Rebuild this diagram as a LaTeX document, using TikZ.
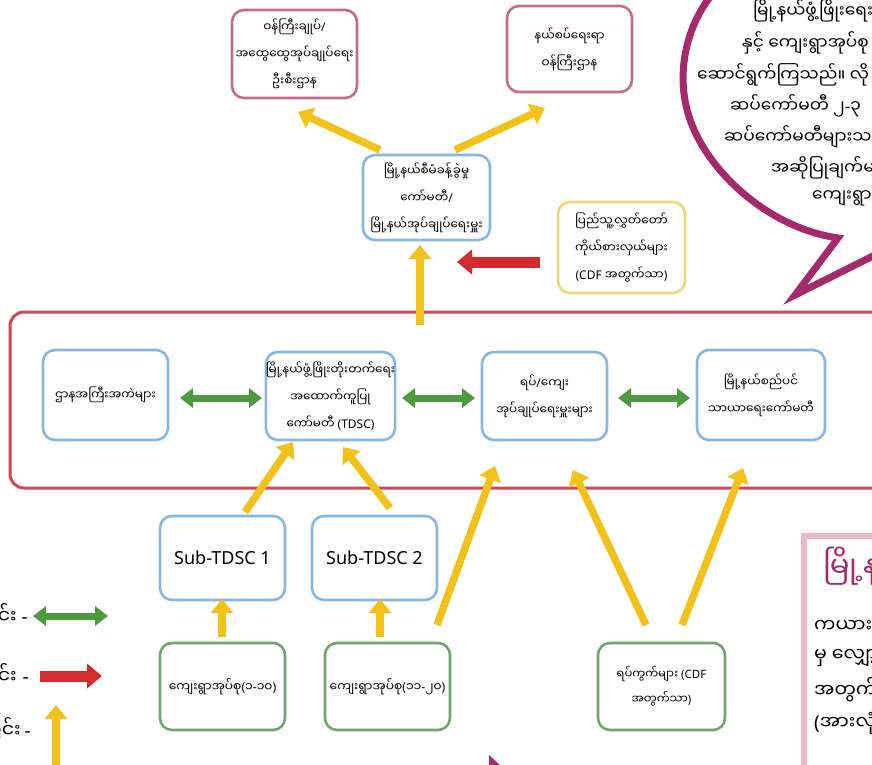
\documentclass[tikz,border=0pt]{standalone}
\usepackage{fontspec}
\newfontfamily\mm[Script=Myanmar]{Noto Sans Myanmar UI}
\newfontfamily\lat{Noto Sans}
\newcommand\Lp{{\lat(}}
\newcommand\Rp{{\lat)}}
\newcommand\Sl{{\lat/}}
\newcommand\Dh{{\lat-}}
\usetikzlibrary{arrows.meta}
\definecolor{bbox}{HTML}{86B6E2}
\definecolor{pbox}{HTML}{C46A8C}
\definecolor{ybox}{HTML}{EFD67A}
\definecolor{gbox}{HTML}{6FA56F}
\definecolor{framec}{HTML}{D0465A}
\definecolor{yarr}{HTML}{F2C21A}
\definecolor{garr}{HTML}{4E9A3E}
\definecolor{rarr}{HTML}{D42A2E}
\definecolor{bub}{HTML}{A52A6C}
\definecolor{palepink}{HTML}{EBB8CC}
\tikzset{
  bx/.style={draw, rounded corners=12pt, line width=2.6pt, fill=white, align=center,
    inner sep=1pt, font=\mm\fontsize{12}{27}\selectfont},
  bluebox/.style={bx, draw=bbox},
  pinkbox/.style={bx, draw=pbox},
  yelbox/.style={bx, draw=ybox},
  grnbox/.style={bx, draw=gbox},
  yar/.style={draw=yarr, line width=7.5pt, -{Triangle[length=14pt,width=22pt]}},
  gar/.style={draw=garr, line width=7pt, {Triangle[length=13pt,width=19pt]}-{Triangle[length=13pt,width=19pt]}},
  rar/.style={draw=rarr, line width=11pt, -{Triangle[length=15pt,width=24pt]}},
  bubtext/.style={anchor=west, font=\mm\fontsize{17}{19}\selectfont, inner sep=0pt},
  legtext/.style={anchor=east, font=\mm\fontsize{19}{21}\selectfont, inner sep=0pt},
  rtext/.style={anchor=west, inner sep=0pt, font=\mm\fontsize{19}{21}\selectfont},
}
\begin{document}
\begin{tikzpicture}[x=1pt,y=-1pt]
\useasboundingbox (0,0) rectangle (872,764);
\clip (0,0) rectangle (872,764);
\fill[white] (0,0) rectangle (872,764);

% big red frame
\draw[framec, line width=3pt, rounded corners=14pt] (10,312) rectangle (890,488);

% top boxes
\node[pinkbox, minimum width=125pt, minimum height=88pt] (n1) at (294.5,54) {ဝန်ကြီးချုပ်\Sl\\အထွေထွေအုပ်ချုပ်ရေး\\ဦးစီးဌာန};
\node[pinkbox, minimum width=125pt, minimum height=86pt] (n2) at (569.5,49) {နယ်စပ်ရေးရာ\\ဝန်ကြီးဌာန};
\node[bluebox, minimum width=127pt, minimum height=85pt] (n3) at (426.5,197.5) {မြို့နယ်စီမံခန့်ခွဲမှု\\ကော်မတီ\Sl\\မြို့နယ်အုပ်ချုပ်ရေးမှူး};
\node[yelbox, minimum width=127pt, minimum height=91pt] (n4) at (621.5,247.5) {ပြည်သူ့လွှတ်တော်\\ကိုယ်စားလှယ်များ\\\Lp{\lat CDF} အတွက်သာ\Rp};

% frame boxes
\node[bluebox, minimum width=125pt, minimum height=90pt] (b1) at (105.5,395) {ဌာနအကြီးအကဲများ};
\node[bluebox, minimum width=125pt, minimum height=88pt, inner sep=0pt] (b2) at (330.5,396) {မြို့နယ်ဖွံ့ဖြိုးတိုးတက်ရေး\\အထောက်ကူပြု\\ကော်မတီ \Lp{\lat TDSC}\Rp};
\node[bluebox, minimum width=125pt, minimum height=88pt] (b3) at (544.5,396) {ရပ်\Sl ကျေး\\အုပ်ချုပ်ရေးမှူးများ};
\node[bluebox, minimum width=128pt, minimum height=90pt] (b4) at (761,395) {မြို့နယ်စည်ပင်\\သာယာရေးကော်မတီ};

% bottom boxes
\node[bluebox, minimum width=125pt, minimum height=84pt, font=\lat\fontsize{18}{20}\selectfont] (s1) at (222.5,558) {Sub-TDSC 1};
\node[bluebox, minimum width=125pt, minimum height=84pt, font=\lat\fontsize{18}{20}\selectfont] (s2) at (374.5,558) {Sub-TDSC 2};
\node[grnbox, minimum width=125pt, minimum height=87pt, font=\mm\fontsize{12.3}{20}\selectfont, inner sep=0pt] (v1) at (222.5,686.5) {ကျေးရွာအုပ်စု\Lp၁\Dh၁၀\Rp};
\node[grnbox, minimum width=125pt, minimum height=87pt, font=\mm\fontsize{12.3}{20}\selectfont, inner sep=0pt] (v2) at (387.5,686.5) {ကျေးရွာအုပ်စု\Lp၁၁\Dh၂၀\Rp};
\node[grnbox, minimum width=127pt, minimum height=87pt, font=\mm\fontsize{11.5}{25}\selectfont] (c1) at (661.5,686.5) {ရပ်ကွက်များ \Lp{\lat CDF}\\အတွက်သာ\Rp};

% arrow end coordinates
\coordinate (a1s) at (380,150); \coordinate (a1e) at (298,112);
\coordinate (a2s) at (455,150); \coordinate (a2e) at (545,108);
\coordinate (a3s) at (420,325); \coordinate (a3e) at (420,245);
\coordinate (r1s) at (540,262); \coordinate (r1e) at (457,262);
\coordinate (a4s) at (245,512); \coordinate (a4e) at (293,442);
\coordinate (a5s) at (390,508); \coordinate (a5e) at (343,447);
\coordinate (a6s) at (437,625); \coordinate (a6e) at (495,466);
\coordinate (a7s) at (646,625); \coordinate (a7e) at (573,470);
\coordinate (a8s) at (682,625); \coordinate (a8e) at (743,468);
\coordinate (a9s) at (222,637); \coordinate (a9e) at (222,599);
\coordinate (a10s) at (380,637); \coordinate (a10e) at (380,599);

\draw[yar] (a1s) -- (a1e);
\draw[yar] (a2s) -- (a2e);
\draw[yar] (a3s) -- (a3e);
\draw[rar] (r1s) -- (r1e);
\draw[yar] (a4s) -- (a4e);
\draw[yar] (a5s) -- (a5e);
\draw[yar] (a6s) -- (a6e);
\draw[yar] (a7s) -- (a7e);
\draw[yar] (a8s) -- (a8e);
\draw[yar] (a9s) -- (a9e);
\draw[yar] (a10s) -- (a10e);

% green double arrows between frame boxes
\coordinate (g1a) at (180,398); \coordinate (g1b) at (262,398);
\coordinate (g2a) at (402,398); \coordinate (g2b) at (475,398);
\coordinate (g3a) at (618,398); \coordinate (g3b) at (690,398);
\draw[gar] (g1a) -- (g1b);
\draw[gar] (g2a) -- (g2b);
\draw[gar] (g3a) -- (g3b);

% legend
\node[legtext] (l1) at (28,616) {ခြင်း \Dh};
\node[legtext] (l2) at (29,676) {ခြင်း\kern6pt\Dh};
\node[legtext] (l3) at (31,730) {ခြင်း\kern4pt\Dh};
\coordinate (lg1a) at (33,616); \coordinate (lg1b) at (108,616);
\coordinate (lr1a) at (40,676); \coordinate (lr1b) at (102,676);
\coordinate (ly1a) at (56,775); \coordinate (ly1b) at (56,705);
\draw[gar] (lg1a) -- (lg1b);
\draw[rar] (lr1a) -- (lr1b);
\draw[yar] (ly1a) -- (ly1b);

% speech bubble
\draw[bub, line width=7pt, line join=miter] (716,-10) .. controls (688,20) and (672,75) .. (692,125)
  .. controls (712,175) and (770,228) .. (838,238) -- (795,295) -- (885,250);
\node[bubtext] (t1) at (753,11) {မြို့နယ်ဖွံ့ဖြိုးရေး};
\node[bubtext] (t2) at (742,43) {နှင့် ကျေးရွာအုပ်စု};
\node[bubtext] (t3) at (697,75) {ဆောင်ရွက်ကြသည်။ လို};
\node[bubtext] (t4) at (730,106) {ဆပ်ကော်မတီ ၂\Dh၃};
\node[bubtext] (t5) at (724,137) {ဆပ်ကော်မတီများသည်};
\node[bubtext] (t6) at (771,168) {အဆိုပြုချက်များ};
\node[bubtext] (t7) at (812,198) {ကျေးရွာ};

% right info box
\draw[palepink, line width=6pt] (804,536) rectangle (900,800);
\node[anchor=west, inner sep=0pt, text=bub, font=\mm\fontsize{29}{32}\selectfont] (rt) at (823,566) {မြို့နယ်};
\node[rtext] (r1) at (814,626) {ကယား};
\node[rtext] (r2) at (814,658) {မှ လျှော့};
\node[rtext] (r3) at (814,690) {အတွက်};
\node[rtext] (r4) at (814,723) {\Lp အားလုံး};

% small triangle at bottom
\fill[bub] (489,755) -- (489,766) -- (501,766) -- cycle;
\end{tikzpicture}
\end{document}
